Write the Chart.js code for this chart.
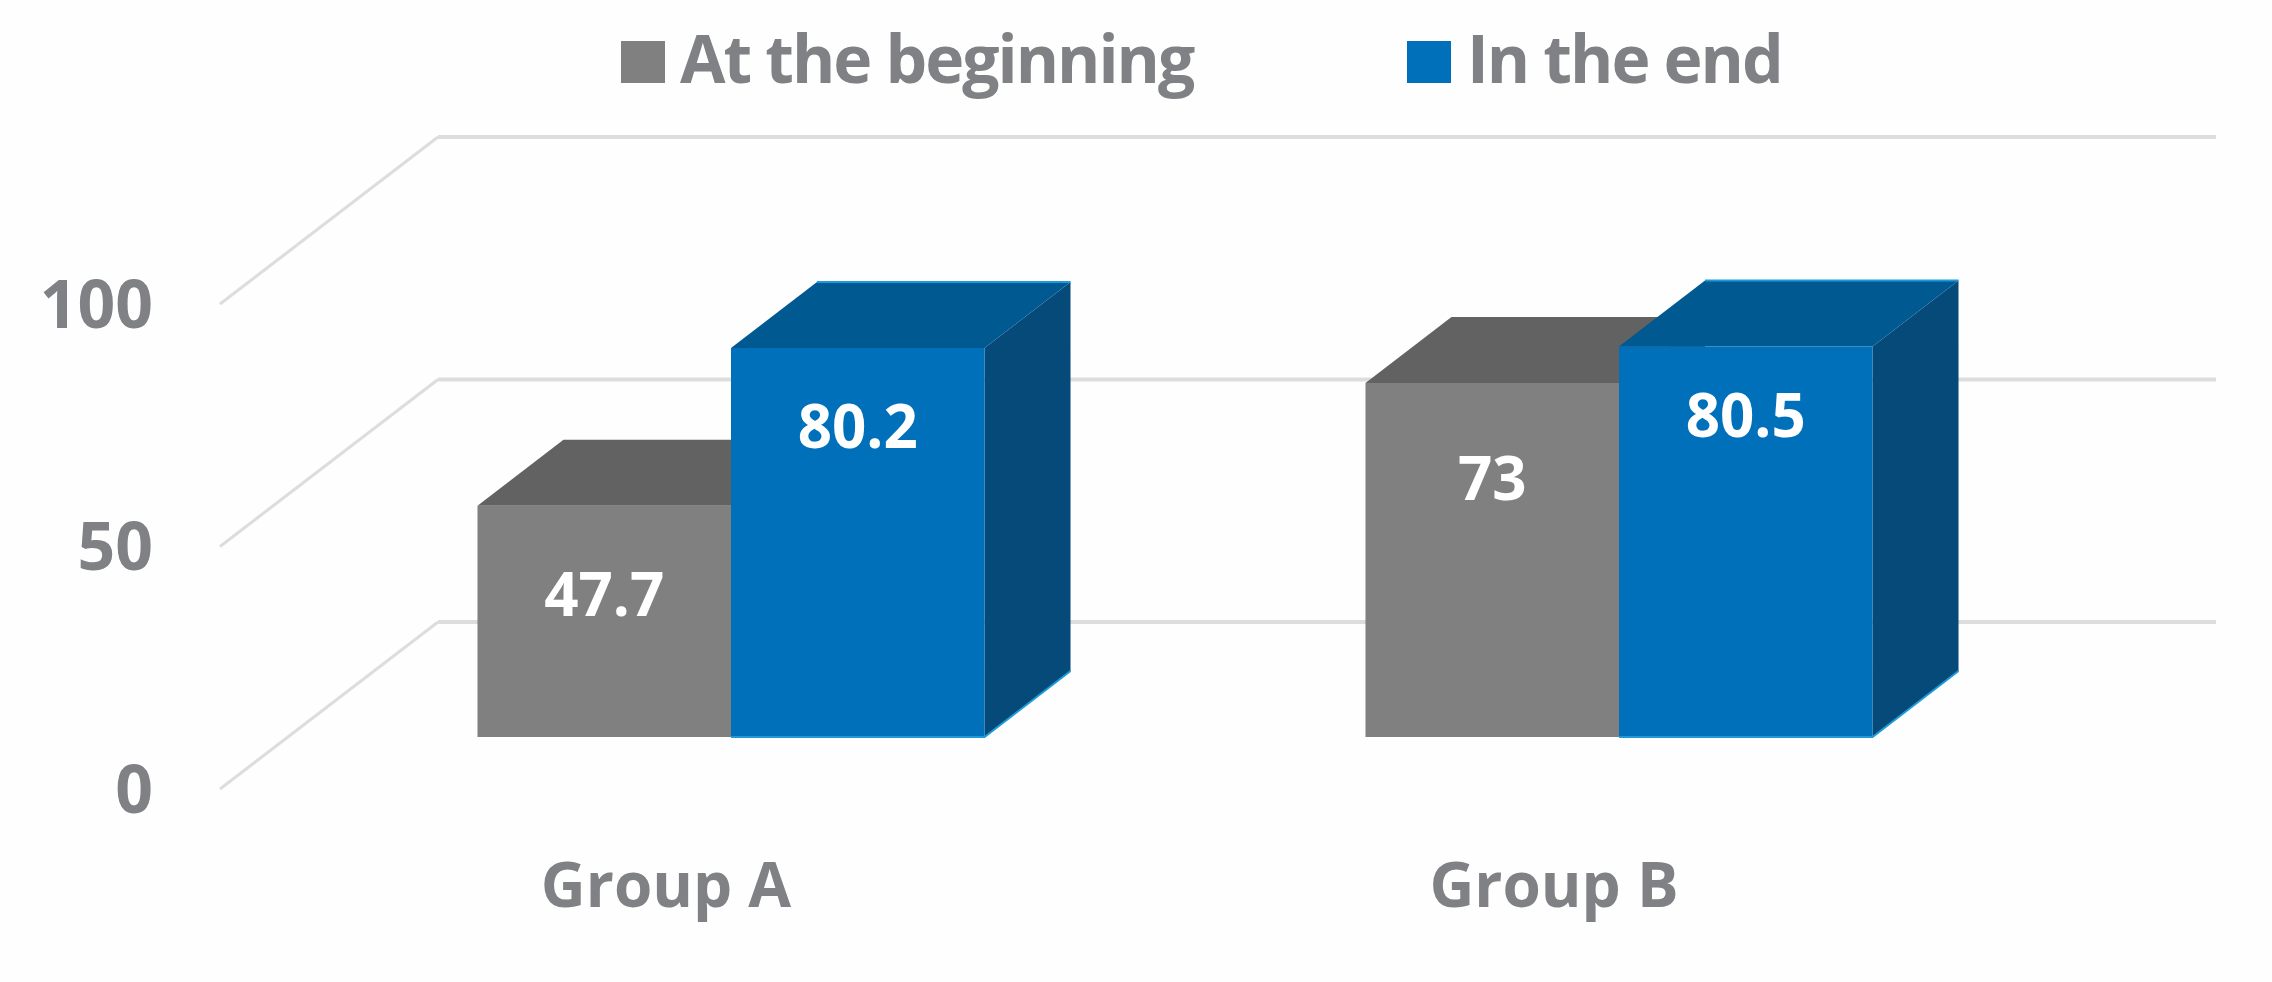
<!DOCTYPE html>
<html>
<head>
<meta charset="utf-8">
<title>Group A / Group B</title>
<script src="https://cdn.jsdelivr.net/npm/chart.js@4"></script>
<style>
    html, body { margin: 0; padding: 0; background: #fefefe; }
    canvas { display: block; }
</style>
</head>
<body>
<canvas id="chart" width="2272" height="982"></canvas>
<script>
// Values
const categories = ['Group A', 'Group B'];
const seriesNames = ['At the beginning', 'In the end'];
const beginningValues = [47.7, 73];
const endValues = [80.2, 80.5];
const valueTicks = [0, 50, 100];

const FONT = '"Open Sans", Lato, sans-serif';
const TEXT_GRAY = '#7f8184';
const GRID = '#dcdddc';

// Per series colours: front, top, side, thin light edge
const faces = [
    { front: '#7f807f', top: '#616261', side: '#565756', edge: null },
    { front: '#0070bb', top: '#005a91', side: '#054a79', edge: '#1c9bd8' }
];

// The extruded look: how far the back of a bar sits from its front
const DEPTH_X = 86;
const DEPTH_Y = 66;

// Floor lines, offset from the plane the bars stand on
const FLOOR_FRONT_X = 220;
const FLOOR_BACK_X = 438;
const FLOOR_RIGHT_X = 2216;
const FLOOR_FRONT_DY = 52;
const FLOOR_BACK_DY = -115;

// Distance from a bar's top edge down to the middle of its label
const labelDrops = [[88, 95], [78, 68]];

function poly(ctx, points, fill) {
    ctx.beginPath();
    points.forEach((p, i) => (i ? ctx.lineTo(p[0], p[1]) : ctx.moveTo(p[0], p[1])));
    ctx.closePath();
    ctx.fillStyle = fill;
    ctx.fill();
}

// Grid lines and bar depth go under the bars
const depthPlugin = {
    id: 'depth',
    beforeDatasetsDraw(chart) {
        const ctx = chart.ctx;
        const yScale = chart.scales.y;
        ctx.save();
        ctx.strokeStyle = GRID;
        ctx.lineCap = 'butt';
        ctx.lineJoin = 'miter';
        valueTicks.forEach(tick => {
            const y = yScale.getPixelForValue(tick);
            ctx.lineWidth = 3;
            ctx.beginPath();
            ctx.moveTo(FLOOR_FRONT_X, y + FLOOR_FRONT_DY);
            ctx.lineTo(FLOOR_BACK_X, y + FLOOR_BACK_DY);
            ctx.stroke();
            ctx.lineWidth = 4;
            ctx.beginPath();
            ctx.moveTo(FLOOR_BACK_X, y + FLOOR_BACK_DY);
            ctx.lineTo(FLOOR_RIGHT_X, y + FLOOR_BACK_DY);
            ctx.stroke();
        });

        chart.data.datasets.forEach((dataset, d) => {
            chart.getDatasetMeta(d).data.forEach(bar => {
                const half = bar.width / 2;
                const l = bar.x - half;
                const r = bar.x + half;
                const t = bar.y;
                const b = bar.base;
                poly(ctx, [[r, t], [r + DEPTH_X, t - DEPTH_Y], [r + DEPTH_X, b - DEPTH_Y], [r, b]], faces[d].side);
                poly(ctx, [[l, t], [l + DEPTH_X, t - DEPTH_Y], [r + DEPTH_X, t - DEPTH_Y], [r, t]], faces[d].top);
            });
        });
        ctx.restore();
    },
    afterDatasetsDraw(chart) {
        const ctx = chart.ctx;
        ctx.save();
        // thin light edges on the blue bars
        chart.data.datasets.forEach((dataset, d) => {
            if (!faces[d].edge) return;
            chart.getDatasetMeta(d).data.forEach(bar => {
                const half = bar.width / 2;
                const l = bar.x - half;
                const r = bar.x + half;
                ctx.strokeStyle = faces[d].edge;
                ctx.lineWidth = 2;
                ctx.beginPath();
                ctx.moveTo(l, bar.base);
                ctx.lineTo(r, bar.base);
                ctx.lineTo(r + DEPTH_X, bar.base - DEPTH_Y);
                ctx.moveTo(l + DEPTH_X, bar.y - DEPTH_Y);
                ctx.lineTo(r + DEPTH_X, bar.y - DEPTH_Y);
                ctx.stroke();
            });
        });

        ctx.font = 'bold 60px ' + FONT;
        ctx.fillStyle = '#ffffff';
        ctx.textAlign = 'center';
        ctx.textBaseline = 'alphabetic';
        chart.data.datasets.forEach((dataset, d) => {
            chart.getDatasetMeta(d).data.forEach((bar, i) => {
                ctx.fillText(String(dataset.data[i]), bar.x, bar.y + labelDrops[d][i] + 22);
            });
        });
        ctx.restore();
    }
};

// Legend at the top, the built-in one can't get this close a swatch-text gap
const legendSpots = [{ box: 621, text: 680 }, { box: 1407, text: 1467 }];
const legendPlugin = {
    id: 'topLegend',
    afterDraw(chart) {
        const ctx = chart.ctx;
        ctx.save();
        ctx.font = 'bold 66px ' + FONT;
        ctx.letterSpacing = '-2px';
        ctx.textBaseline = 'alphabetic';
        chart.data.datasets.forEach((dataset, d) => {
            ctx.fillStyle = dataset.backgroundColor;
            ctx.fillRect(legendSpots[d].box, 41, 44, 42);
            ctx.fillStyle = TEXT_GRAY;
            ctx.fillText(dataset.label, legendSpots[d].text, 83);
        });
        ctx.restore();
    }
};

new Chart(document.getElementById('chart').getContext('2d'), {
    type: 'bar',
    plugins: [depthPlugin, legendPlugin],
    data: {
        labels: categories,
        datasets: [
            { label: seriesNames[0], data: beginningValues, backgroundColor: faces[0].front },
            { label: seriesNames[1], data: endValues, backgroundColor: faces[1].front }
        ]
    },
    options: {
        responsive: false,
        animation: false,
        layout: { padding: { top: 252, right: 209, bottom: 0, left: 0 } },
        datasets: { bar: { categoryPercentage: 0.571, barPercentage: 1 } },
        plugins: {
            legend: { display: false },
            tooltip: { enabled: false }
        },
        scales: {
            x: {
                grid: { display: false },
                border: { display: false },
                afterFit(scale) { scale.height = 245; },
                ticks: {
                    color: TEXT_GRAY,
                    font: { family: FONT, size: 62, weight: 'bold' },
                    padding: 107,
                    labelOffset: -65,
                    maxRotation: 0
                }
            },
            y: {
                min: 0,
                max: 100,
                grid: { display: false },
                border: { display: false },
                afterFit(scale) { scale.width = 287; },
                afterBuildTicks(scale) { scale.ticks = valueTicks.map(v => ({ value: v })); },
                ticks: {
                    color: TEXT_GRAY,
                    font: { family: FONT, size: 66, weight: 'bold' },
                    padding: 126,
                    labelOffset: 57
                }
            }
        }
    }
});
</script>
</body>
</html>
